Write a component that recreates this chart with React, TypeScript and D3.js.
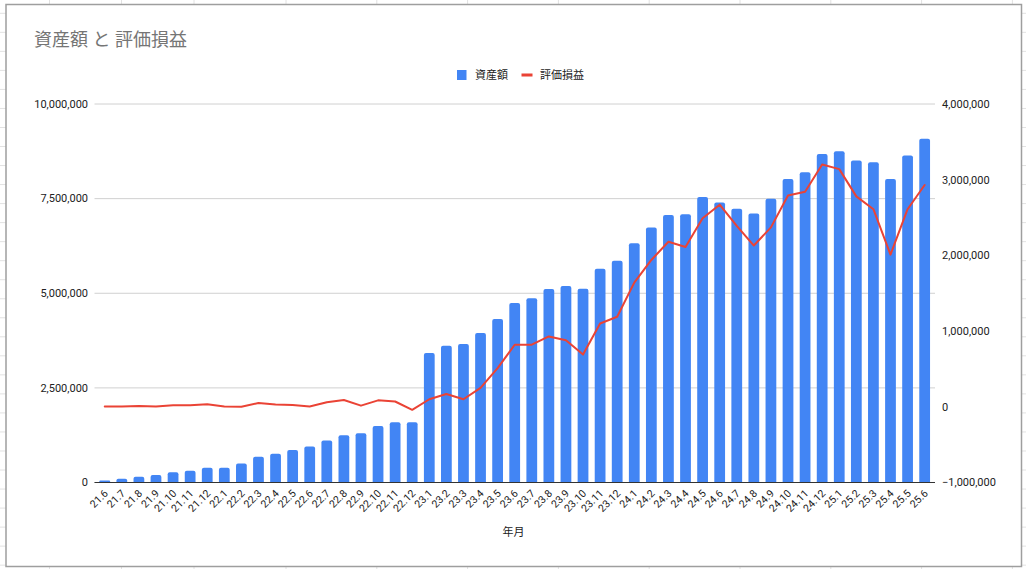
import React from "react"
import * as d3 from "d3"

const WIDTH = 1026
const HEIGHT = 569

const months = [
    "21.6", "21.7", "21.8", "21.9", "21.10", "21.11", "21.12",
    "22.1", "22.2", "22.3", "22.4", "22.5", "22.6", "22.7", "22.8", "22.9", "22.10", "22.11", "22.12",
    "23.1", "23.2", "23.3", "23.4", "23.5", "23.6", "23.7", "23.8", "23.9", "23.10", "23.11", "23.12",
    "24.1", "24.2", "24.3", "24.4", "24.5", "24.6", "24.7", "24.8", "24.9", "24.10", "24.11", "24.12",
    "25.1", "25.2", "25.3", "25.4", "25.5", "25.6",
]

// 資産額
const assets = [
    50000, 100000, 150000, 200000, 270000, 310000, 390000,
    390000, 500000, 680000, 760000, 860000, 950000, 1110000, 1250000, 1300000, 1490000, 1590000, 1590000,
    3420000, 3610000, 3660000, 3950000, 4320000, 4740000, 4870000, 5110000, 5190000, 5120000, 5650000, 5860000,
    6320000, 6740000, 7070000, 7090000, 7540000, 7400000, 7230000, 7110000, 7500000, 8020000, 8200000, 8680000,
    8750000, 8510000, 8460000, 8020000, 8640000, 9080000,
]

// 評価損益
const profits = [
    5000, 5000, 10000, 5000, 20000, 20000, 35000,
    5000, 0, 50000, 30000, 25000, 5000, 60000, 90000, 15000, 85000, 70000, -40000,
    100000, 170000, 100000, 250000, 510000, 820000, 820000, 930000, 880000, 690000, 1100000, 1190000,
    1640000, 1940000, 2180000, 2110000, 2490000, 2670000, 2390000, 2130000, 2370000, 2790000, 2840000, 3200000,
    3140000, 2780000, 2610000, 2010000, 2610000, 2930000,
]

const leftTicks = [0, 2500000, 5000000, 7500000, 10000000]
const rightTicks = [-1000000, 0, 1000000, 2000000, 3000000, 4000000]

const BAR_COLOR = "#4285f4"
const LINE_COLOR = "#ea4335"
const FONT = "Roboto, 'Noto Sans CJK JP', sans-serif"

const PLOT = { left: 94.5, right: 935, top: 104, bottom: 482.5 }

const fmt = d3.format(",")

function topRoundedBar(x: number, y: number, w: number, h: number, r: number) {
    const rr = Math.min(r, h / 2, w / 2)
    return `M${x},${y + h}V${y + rr}Q${x},${y} ${x + rr},${y}H${x + w - rr}Q${x + w},${y} ${x + w},${y + rr}V${y + h}Z`
}

const App: React.FC = () => {
    const x = d3
        .scaleBand<string>()
        .domain(months)
        .range([96.2, 933.2])
        .paddingInner(0.37)
        .paddingOuter(0.185)

    const yLeft = d3.scaleLinear().domain([0, 10000000]).range([PLOT.bottom, PLOT.top])
    const yRight = d3.scaleLinear().domain([-1000000, 4000000]).range([PLOT.bottom, PLOT.top])

    const line = d3
        .line<number>()
        .x((_, i) => x(months[i])! + x.bandwidth() / 2)
        .y(d => yRight(d))

    // スプレッドシートの背景セル
    const rowLines = d3.range(0, 30).map(i => 13.3 + i * 19.03).filter(v => v < HEIGHT)
    const colLines = [49.5, 121.5, 194].concat(d3.range(0, 9).map(i => 286 + i * 90.8))

    return (
        <svg
            width={WIDTH}
            height={HEIGHT}
            style={{ position: "absolute", left: 0, top: 0, background: "#fff" }}
            fontFamily={FONT}
        >
            <g stroke="#e2e2e2" strokeWidth={1}>
                {rowLines.map((v, i) => (
                    <g key={"r" + i}>
                        <line x1={0} x2={6} y1={v} y2={v} />
                        <line x1={1022} x2={WIDTH} y1={v} y2={v} />
                    </g>
                ))}
                {colLines.map((v, i) => (
                    <g key={"c" + i}>
                        <line x1={v} x2={v} y1={0} y2={4.5} />
                        <line x1={v} x2={v} y1={566.5} y2={HEIGHT} />
                    </g>
                ))}
            </g>
            <rect x={6} y={4.5} width={1015.5} height={562} fill="#fff" stroke="#9e9e9e" strokeWidth={1.5} />

            <text x={34} y={46} fontSize={18} fill="#757575">
                資産額 と 評価損益
            </text>

            {/* 凡例 */}
            <g fontSize={11} fill="#222">
                <rect x={457} y={70} width={9.5} height={10} fill={BAR_COLOR} />
                <text x={475} y={79}>資産額</text>
                <rect x={521.5} y={73.5} width={11} height={3} fill={LINE_COLOR} />
                <text x={540} y={79}>評価損益</text>
            </g>

            {/* グリッド */}
            <g>
                {leftTicks.map(t => (
                    <line
                        key={t}
                        x1={PLOT.left}
                        x2={PLOT.right}
                        y1={yLeft(t)}
                        y2={yLeft(t)}
                        stroke="#d0d0d0"
                        strokeWidth={1}
                    />
                ))}
            </g>

            <g fontSize={11} fill="#222">
                {leftTicks.map(t => (
                    <text key={t} x={88} y={yLeft(t)} dy="0.35em" textAnchor="end">
                        {fmt(t)}
                    </text>
                ))}
                {rightTicks.map(t => (
                    <text key={t} x={942} y={yRight(t)} dy="0.35em" textAnchor="start">
                        {fmt(t)}
                    </text>
                ))}
            </g>

            {/* 資産額 */}
            <g fill={BAR_COLOR}>
                {assets.map((v, i) => (
                    <path
                        key={months[i]}
                        d={topRoundedBar(x(months[i])!, yLeft(v), x.bandwidth(), yLeft(0) - yLeft(v), 2)}
                    />
                ))}
            </g>

            <line x1={PLOT.left} x2={PLOT.right} y1={PLOT.bottom} y2={PLOT.bottom} stroke="#333" strokeWidth={1} />

            {/* 評価損益 */}
            <path
                d={line(profits) ?? ""}
                fill="none"
                stroke={LINE_COLOR}
                strokeWidth={2}
                strokeLinejoin="round"
                strokeLinecap="round"
            />

            <g fontSize={10.5} fill="#222">
                {months.map(m => {
                    const cx = x(m)! + x.bandwidth() / 2 + 4
                    return (
                        <text key={m} transform={`translate(${cx},494) rotate(-45)`} textAnchor="end">
                            {m}
                        </text>
                    )
                })}
            </g>

            <text x={513.5} y={536} fontSize={11} fill="#222" textAnchor="middle">
                年月
            </text>
        </svg>
    )
}

export default App
